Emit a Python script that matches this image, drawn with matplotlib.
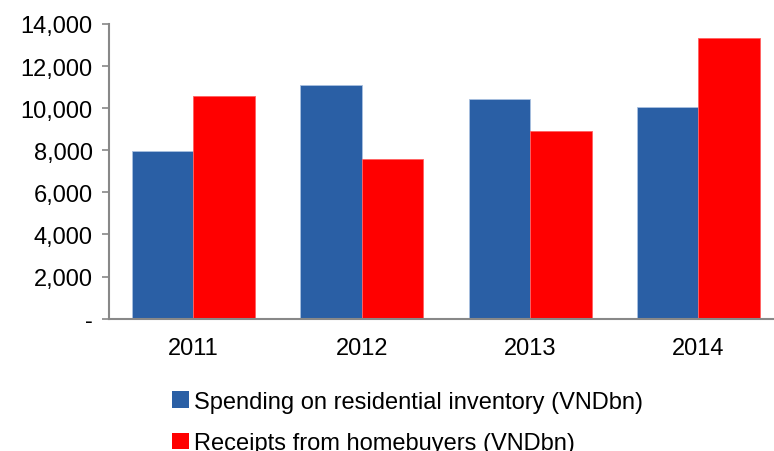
import matplotlib
matplotlib.use("Agg")
import matplotlib.pyplot as plt
from matplotlib.patches import Patch
from matplotlib.ticker import FuncFormatter
import numpy as np

years = ["2011", "2012", "2013", "2014"]
spending = [7970, 11120, 10440, 10060]
receipts = [10580, 7570, 8900, 13320]
series_names = ["Spending on residential inventory (VNDbn)",
                "Receipts from homebuyers (VNDbn)"]
colors = ["#2A5FA5", "#FF0000"]

plt.rcParams["font.family"] = ["Liberation Sans", "DejaVu Sans"]

fig = plt.figure(figsize=(7.74, 4.52), dpi=100)
ax = fig.add_axes([0.1412, 0.2927, 0.870, 0.652])

x = np.arange(len(years))
w = 0.365
ax.bar(x - w / 2, spending, w, color=colors[0], edgecolor="#A9C0E0", linewidth=0.6)
ax.bar(x + w / 2, receipts, w, color=colors[1], edgecolor="#FF6060", linewidth=0.6)

ax.set_xlim(-0.5, 3.5)
ax.set_ylim(0, 14000)
ax.set_yticks(range(0, 14001, 2000))
ax.yaxis.set_major_formatter(FuncFormatter(lambda v, p: "-" if v == 0 else f"{int(v):,}"))
ax.set_xticks(x)
ax.set_xticklabels(years)

for s in ["top", "right"]:
    ax.spines[s].set_visible(False)
for s in ["left", "bottom"]:
    ax.spines[s].set_color("#888888")
    ax.spines[s].set_linewidth(1.5)
ax.tick_params(axis="y", length=5, width=1.2, color="#888888", labelsize=17, pad=7)
ax.tick_params(axis="x", length=0, labelsize=17, pad=13)

handles = [Patch(facecolor=c, edgecolor="none") for c in colors]
fig.legend(handles, series_names, loc="upper left",
           bbox_to_anchor=(172 / 774, 1 - 392 / 452), frameon=False,
           fontsize=17, handlelength=0.7, handleheight=0.7,
           handletextpad=0.25, labelspacing=0.82, borderaxespad=0, borderpad=0)

fig.savefig("out.png", dpi=100)
